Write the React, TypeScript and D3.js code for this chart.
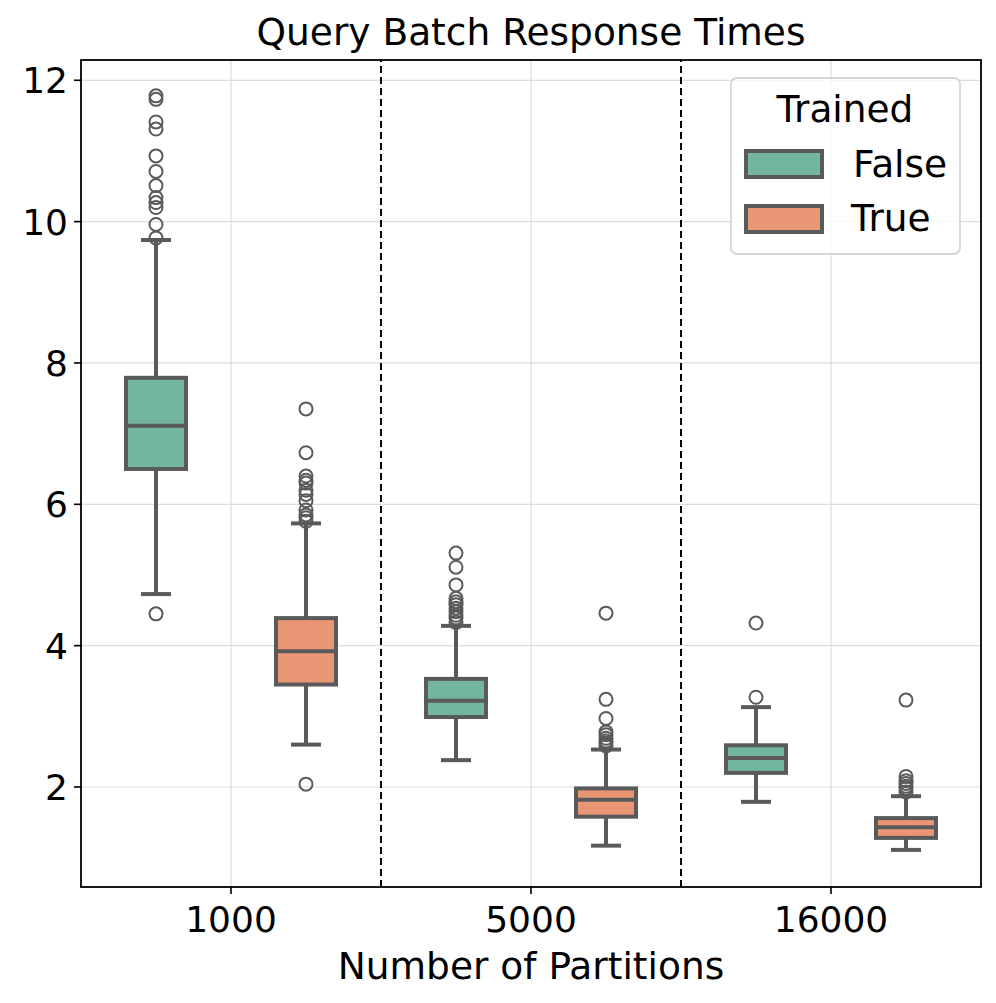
import React from "react";
import * as d3 from "d3";

const partitions = ["1000", "5000", "16000"];
const trained = ["False", "True"];

// box stats per partition: [False, True]
const q1s = [[6.50, 3.45], [2.99, 1.58], [2.20, 1.28]];
const medians = [[7.11, 3.92], [3.22, 1.82], [2.41, 1.43]];
const q3s = [[7.79, 4.39], [3.53, 1.98], [2.59, 1.56]];
const whiskerLows = [[4.73, 2.60], [2.38, 1.17], [1.79, 1.11]];
const whiskerHighs = [[9.74, 5.73], [4.28, 2.53], [3.13, 1.87]];
const outliers = [
    [
        [11.78, 11.73, 11.41, 11.31, 10.93, 10.71, 10.51, 10.34, 10.27, 10.20, 9.96, 9.77, 4.45],
        [7.35, 6.73, 6.40, 6.34, 6.30, 6.20, 6.14, 6.05, 5.92, 5.85, 5.81, 5.76, 2.04],
    ],
    [
        [5.31, 5.11, 4.86, 4.67, 4.62, 4.58, 4.53, 4.48, 4.43, 4.39, 4.33],
        [4.46, 3.24, 2.97, 2.78, 2.74, 2.69, 2.65, 2.62, 2.58],
    ],
    [
        [4.32, 3.27],
        [3.23, 2.15, 2.09, 2.05, 2.01, 1.98, 1.93],
    ],
];
const yTicks = [2, 4, 6, 8, 10, 12];

const colors = ["#72b6a1", "#e99675"];
const lineColor = "#5a5a5a";
const font = "DejaVu Sans, sans-serif";

const width = 996;
const height = 1003;
const margin = { top: 60, right: 15, bottom: 116, left: 81 };

export default function App() {
    const x = d3.scaleLinear()
        .domain([-0.5, partitions.length - 0.5])
        .range([margin.left, width - margin.right]);

    const y = d3.scaleLinear()
        .domain([0.585, 12.287])
        .range([height - margin.bottom, margin.top]);

    const offsets = [-0.25, 0.25];
    const boxW = x(0.2) - x(0);
    const capW = boxW / 2;

    const x0 = margin.left;
    const x1 = width - margin.right;
    const y0 = height - margin.bottom;
    const y1 = margin.top;

    return (
        <svg width={width} height={height} style={{ position: "absolute", left: 0, top: 0 }} fontFamily={font}>
            <rect x={0} y={0} width={width} height={height} fill="white" />
            {/* grid */}
            {yTicks.map(t => (
                <line key={"gy" + t} x1={x0} x2={x1} y1={y(t)} y2={y(t)} stroke="#dddddd" strokeWidth={1.2} />
            ))}
            {partitions.map((p, i) => (
                <line key={"gx" + p} x1={x(i)} x2={x(i)} y1={y0} y2={y1} stroke="#dddddd" strokeWidth={1.2} />
            ))}
            {/* separators */}
            {partitions.slice(0, -1).map((p, i) => (
                <line key={"sep" + p} x1={x(i + 0.5)} x2={x(i + 0.5)} y1={y0} y2={y1}
                    stroke="black" strokeWidth={2} strokeDasharray="7,4" />
            ))}
            {/* boxes */}
            {partitions.map((p, i) => trained.map((t, j) => {
                const cx = x(i + offsets[j]);
                return (
                    <g key={p + t}>
                        <line x1={cx} x2={cx} y1={y(q3s[i][j])} y2={y(whiskerHighs[i][j])} stroke={lineColor} strokeWidth={4} />
                        <line x1={cx} x2={cx} y1={y(q1s[i][j])} y2={y(whiskerLows[i][j])} stroke={lineColor} strokeWidth={4} />
                        <line x1={cx - capW / 2} x2={cx + capW / 2} y1={y(whiskerHighs[i][j])} y2={y(whiskerHighs[i][j])} stroke={lineColor} strokeWidth={4} />
                        <line x1={cx - capW / 2} x2={cx + capW / 2} y1={y(whiskerLows[i][j])} y2={y(whiskerLows[i][j])} stroke={lineColor} strokeWidth={4} />
                        <rect x={cx - boxW / 2} y={y(q3s[i][j])} width={boxW} height={y(q1s[i][j]) - y(q3s[i][j])}
                            fill={colors[j]} stroke={lineColor} strokeWidth={4} />
                        <line x1={cx - boxW / 2} x2={cx + boxW / 2} y1={y(medians[i][j])} y2={y(medians[i][j])} stroke={lineColor} strokeWidth={4} />
                        {outliers[i][j].map((v, k) => (
                            <circle key={k} cx={cx} cy={y(v)} r={6.5} fill="none" stroke={lineColor} strokeWidth={2} />
                        ))}
                    </g>
                );
            }))}
            {/* spines */}
            <rect x={x0} y={y1} width={x1 - x0} height={y0 - y1} fill="none" stroke="black" strokeWidth={1.8} />
            {/* y axis */}
            {yTicks.map(t => (
                <g key={"yt" + t}>
                    <line x1={x0 - 7} x2={x0} y1={y(t)} y2={y(t)} stroke="black" strokeWidth={1.6} />
                    <text x={x0 - 13} y={y(t)} dy="0.36em" textAnchor="end" fontSize={36}>{t}</text>
                </g>
            ))}
            {/* x axis */}
            {partitions.map((p, i) => (
                <g key={"xt" + p}>
                    <line x1={x(i)} x2={x(i)} y1={y0} y2={y0 + 7} stroke="black" strokeWidth={1.6} />
                    <text x={x(i)} y={y0 + 45} textAnchor="middle" fontSize={36}>{p}</text>
                </g>
            ))}
            <text x={(x0 + x1) / 2} y={979} textAnchor="middle" fontSize={37.5}>Number of Partitions</text>
            <text x={(x0 + x1) / 2} y={45} textAnchor="middle" fontSize={37.5}>Query Batch Response Times</text>
            {/* legend */}
            <g>
                <rect x={731} y={78} width={229} height={176} rx={6} fill="white" fillOpacity={0.8} stroke="#d6d6d6" strokeWidth={1.8} />
                <text x={845} y={122} textAnchor="middle" fontSize={37.5}>Trained</text>
                {trained.map((t, j) => (
                    <g key={"lg" + t}>
                        <rect x={746} y={151 + j * 55} width={76} height={26} fill={colors[j]} stroke={lineColor} strokeWidth={4} />
                        <text x={t === "True" ? 851 : 853} y={177 + j * 54} fontSize={37.5}>{t}</text>
                    </g>
                ))}
            </g>
        </svg>
    );
}
